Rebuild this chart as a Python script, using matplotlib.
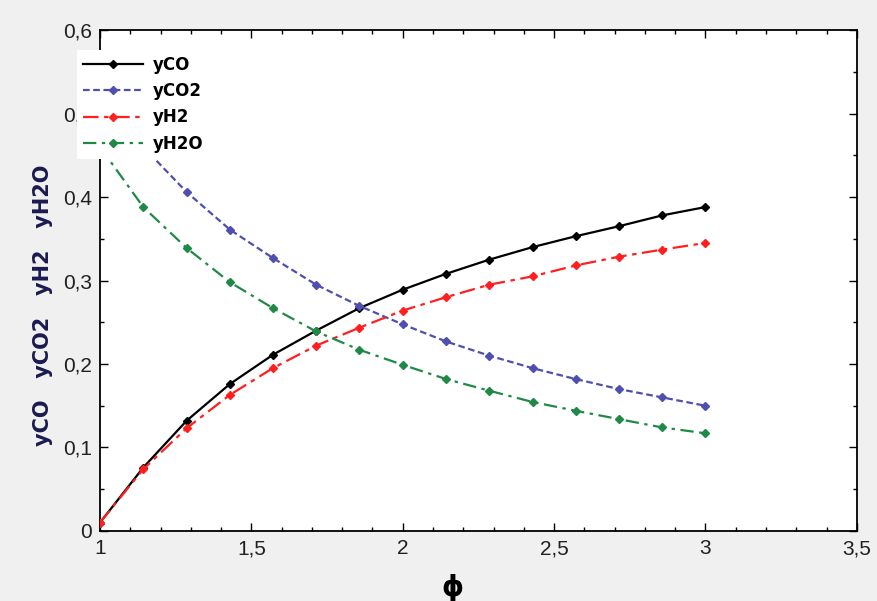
import matplotlib
matplotlib.use("Agg")
import matplotlib.pyplot as plt
from matplotlib.ticker import MultipleLocator, FuncFormatter

# ── data ────────────────────────────────────────────────────────────────────
phi = [1.0, 1.143, 1.286, 1.429, 1.571, 1.714, 1.857, 2.0,
       2.143, 2.286, 2.429, 2.571, 2.714, 2.857, 3.0]
y_co = [0.01, 0.076, 0.132, 0.176, 0.211, 0.240, 0.267, 0.289,
        0.308, 0.325, 0.340, 0.353, 0.365, 0.378, 0.388]
y_co2 = [0.53, 0.46, 0.406, 0.361, 0.327, 0.295, 0.2695, 0.2475,
         0.227, 0.210, 0.195, 0.182, 0.170, 0.160, 0.150]
y_h2 = [0.01, 0.074, 0.123, 0.163, 0.195, 0.222, 0.2435, 0.264,
        0.280, 0.295, 0.305, 0.318, 0.3285, 0.337, 0.345]
y_h2o = [0.46, 0.388, 0.339, 0.298, 0.267, 0.239, 0.217, 0.199,
         0.182, 0.168, 0.1545, 0.144, 0.134, 0.124, 0.117]

labels = ["yCO", "yCO2", "yH2", "yH2O"]

plt.rcParams["font.family"] = ["Liberation Sans", "DejaVu Sans"]

BG = "#f0f0f0"
fig = plt.figure(figsize=(8.77, 6.01), dpi=100, facecolor=BG)
ax = fig.add_axes([0.114, 0.1165, 0.863, 0.8335])
ax.set_facecolor("white")

ax.plot(phi, y_co, color="black", ls="-", lw=1.6,
        marker="D", ms=4, label=labels[0], zorder=3)
ax.plot(phi, y_co2, color="#4f4fb0", ls=(0, (3, 1.6)), lw=1.6,
        marker="D", ms=4, label=labels[1], zorder=3)
ax.plot(phi, y_h2, color="#ff1f1f", ls=(0, (7, 2.5, 2, 2.5)), lw=1.6,
        marker="D", ms=4, label=labels[2], zorder=3)
ax.plot(phi, y_h2o, color="#1e8a45", ls=(0, (6, 2.5, 1.5, 2.5)), lw=1.6,
        marker="D", ms=4, label=labels[3], zorder=3)

# ── axes ────────────────────────────────────────────────────────────────────
ax.set_xlim(1, 3.5)
ax.set_ylim(0, 0.6)
ax.xaxis.set_major_locator(MultipleLocator(0.5))
ax.xaxis.set_minor_locator(MultipleLocator(0.1))
ax.yaxis.set_major_locator(MultipleLocator(0.1))
ax.yaxis.set_minor_locator(MultipleLocator(0.05))

comma = FuncFormatter(lambda v, p: f"{v:g}".replace(".", ","))
ax.xaxis.set_major_formatter(comma)
ax.yaxis.set_major_formatter(comma)

ax.tick_params(which="both", direction="in", top=True, right=True,
               labelsize=15, labelcolor="#202020", pad=6)
ax.tick_params(which="major", length=6, width=1)
ax.tick_params(which="minor", length=3, width=1)
for sp in ax.spines.values():
    sp.set_linewidth(1.3)

ax.set_xlabel("ϕ", fontsize=20, fontweight="bold", family=["DejaVu Sans"])
ax.xaxis.set_label_coords(0.466, -0.085)
ax.set_ylabel("yCO   yCO2   yH2   yH2O", fontsize=15, fontweight="bold",
              color="#1a1a50", family=["DejaVu Sans"])
ax.yaxis.set_label_coords(-0.062, 0.451)

# ── legend (opaque, sits over the left spine) ──────────────────────────────
leg = ax.legend(loc="upper left", bbox_to_anchor=(77 / 877, 1 - 50 / 601),
                bbox_transform=fig.transFigure, frameon=True,
                facecolor="white", edgecolor="none", framealpha=1,
                fancybox=False, handlelength=3.6, handletextpad=0.6,
                labelspacing=0.5, borderpad=0.35, borderaxespad=0,
                prop={"weight": "bold", "size": 12, "family": "DejaVu Sans"})
leg.set_zorder(5)

fig.savefig("out.png", dpi=100, facecolor=BG)
